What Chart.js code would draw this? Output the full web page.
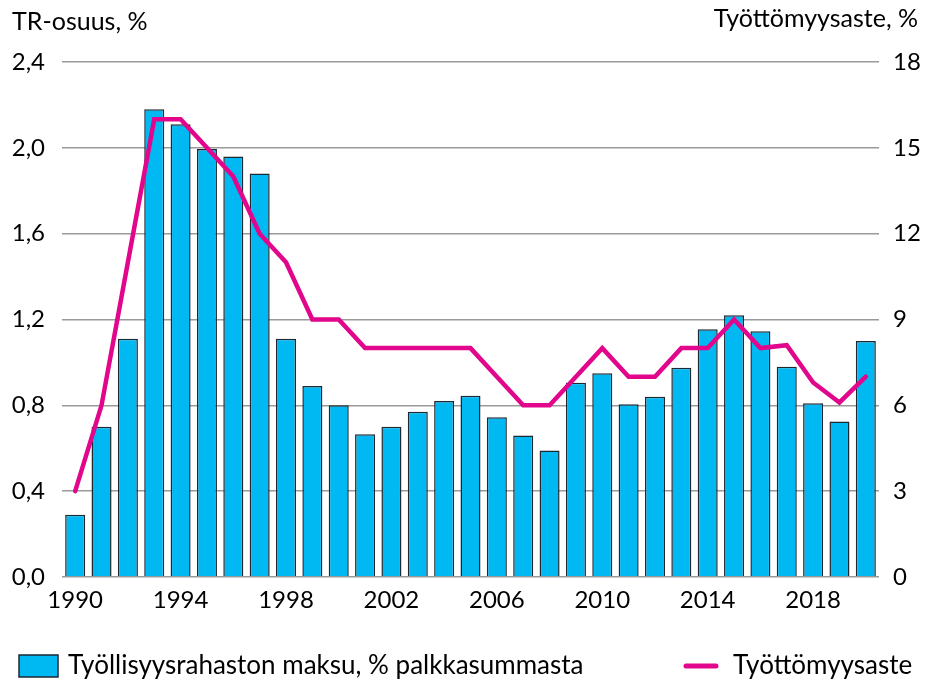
<!DOCTYPE html>
<html>
<head>
<meta charset="utf-8">
<script src="https://cdn.jsdelivr.net/npm/chart.js@4.4.0/dist/chart.umd.min.js"></script>
<style>
  html, body { margin: 0; padding: 0; background: #fff; }
  #wrap { width: 926px; height: 679px; }
</style>
</head>
<body>
<div id="wrap"><canvas id="kaavio"></canvas></div>
<script>
const vuodet = ['1990', '1991', '1992', '1993', '1994', '1995', '1996', '1997', '1998', '1999',
  '2000', '2001', '2002', '2003', '2004', '2005', '2006', '2007', '2008', '2009',
  '2010', '2011', '2012', '2013', '2014', '2015', '2016', '2017', '2018', '2019', '2020'];
const nakyvatVuodet = ['1990', '1994', '1998', '2002', '2006', '2010', '2014', '2018'];

// TR-maksu, % palkkasummasta (vasen akseli)
const trOsuus = [0.29, 0.70, 1.11, 2.18, 2.11, 1.995, 1.96, 1.88, 1.11, 0.89,
  0.80, 0.665, 0.70, 0.77, 0.82, 0.845, 0.745, 0.66, 0.59, 0.905,
  0.95, 0.805, 0.84, 0.975, 1.155, 1.22, 1.145, 0.98, 0.81, 0.725, 1.10];

// työttömyysaste, % (oikea akseli)
const tyottomyys = [3, 6, 11, 16, 16, 15, 14, 12, 11, 9,
  9, 8, 8, 8, 8, 8, 7, 6, 6, 7,
  8, 7, 7, 8, 8, 9, 8, 8.1, 6.8, 6.1, 7];

const fontti = 'Lato';
const kokoTick = 24;

const otsikotJaSelite = {
  id: 'otsikotJaSelite',
  afterDraw(chart) {
    const ctx = chart.ctx;
    const ds = chart.data.datasets;
    ctx.save();
    ctx.fillStyle = '#000';
    ctx.textBaseline = 'middle';

    ctx.font = '25px ' + fontti;
    ctx.textAlign = 'left';
    ctx.fillText('TR-osuus, %', 12, 22);
    ctx.textAlign = 'right';
    ctx.fillText('Työttömyysaste, %', 918, 19);

    // selite
    const y = 666;
    ctx.font = '26px ' + fontti;
    ctx.fillStyle = ds[0].backgroundColor;
    ctx.fillRect(19, 655, 39, 22);
    ctx.strokeStyle = ds[0].borderColor;
    ctx.lineWidth = 1.5;
    ctx.strokeRect(19, 655, 39, 22);
    ctx.fillStyle = '#000';
    ctx.textAlign = 'left';
    ctx.fillText(ds[0].label, 68, y);

    ctx.strokeStyle = ds[1].borderColor;
    ctx.lineWidth = 5;
    ctx.lineCap = 'round';
    ctx.beginPath();
    ctx.moveTo(686, y);
    ctx.lineTo(716, y);
    ctx.stroke();
    ctx.fillText(ds[1].label, 733, y);
    ctx.restore();
  }
};

new Chart(document.getElementById('kaavio'), {
  data: {
    labels: vuodet,
    datasets: [
      {
        type: 'bar',
        label: 'Työllisyysrahaston maksu, % palkkasummasta',
        data: trOsuus,
        yAxisID: 'y',
        backgroundColor: '#00B9F2',
        borderColor: '#1d2833',
        borderWidth: 1.5,
        barPercentage: 0.76,
        categoryPercentage: 1,
        order: 2
      },
      {
        type: 'line',
        label: 'Työttömyysaste',
        data: tyottomyys,
        yAxisID: 'y1',
        borderColor: '#E2068C',
        borderWidth: 4.5,
        borderCapStyle: 'round',
        pointRadius: 0,
        tension: 0,
        order: 1
      }
    ]
  },
  options: {
    responsive: true,
    maintainAspectRatio: false,
    animation: false,
    layout: {
      padding: { left: 0, right: 0, top: 62, bottom: 62 }
    },
    plugins: {
      legend: { display: false },
      tooltip: { enabled: false }
    },
    scales: {
      x: {
        grid: { display: false },
        border: { display: false },
        ticks: {
          autoSkip: false,
          maxRotation: 0,
          padding: 1,
          color: '#000',
          font: { family: fontti, size: kokoTick },
          callback: function (val, i) {
            const v = vuodet[i];
            return nakyvatVuodet.includes(v) ? v : '';
          }
        },
        afterFit: s => { s.height = 40; }
      },
      y: {
        position: 'left',
        min: 0,
        max: 2.4,
        grid: { color: '#9a9a9a', lineWidth: 1.5, drawTicks: false },
        border: { display: false },
        ticks: {
          stepSize: 0.4,
          padding: 17,
          color: '#000',
          font: { family: fontti, size: kokoTick },
          callback: v => v.toFixed(1).replace('.', ',')
        },
        afterFit: s => { s.width = 62; }
      },
      y1: {
        position: 'right',
        min: 0,
        max: 18,
        grid: { display: false, drawTicks: false },
        border: { display: false },
        ticks: {
          stepSize: 3,
          padding: 14,
          color: '#000',
          font: { family: fontti, size: kokoTick }
        },
        afterFit: s => { s.width = 47; }
      }
    }
  },
  plugins: [otsikotJaSelite]
});
</script>
</body>
</html>
